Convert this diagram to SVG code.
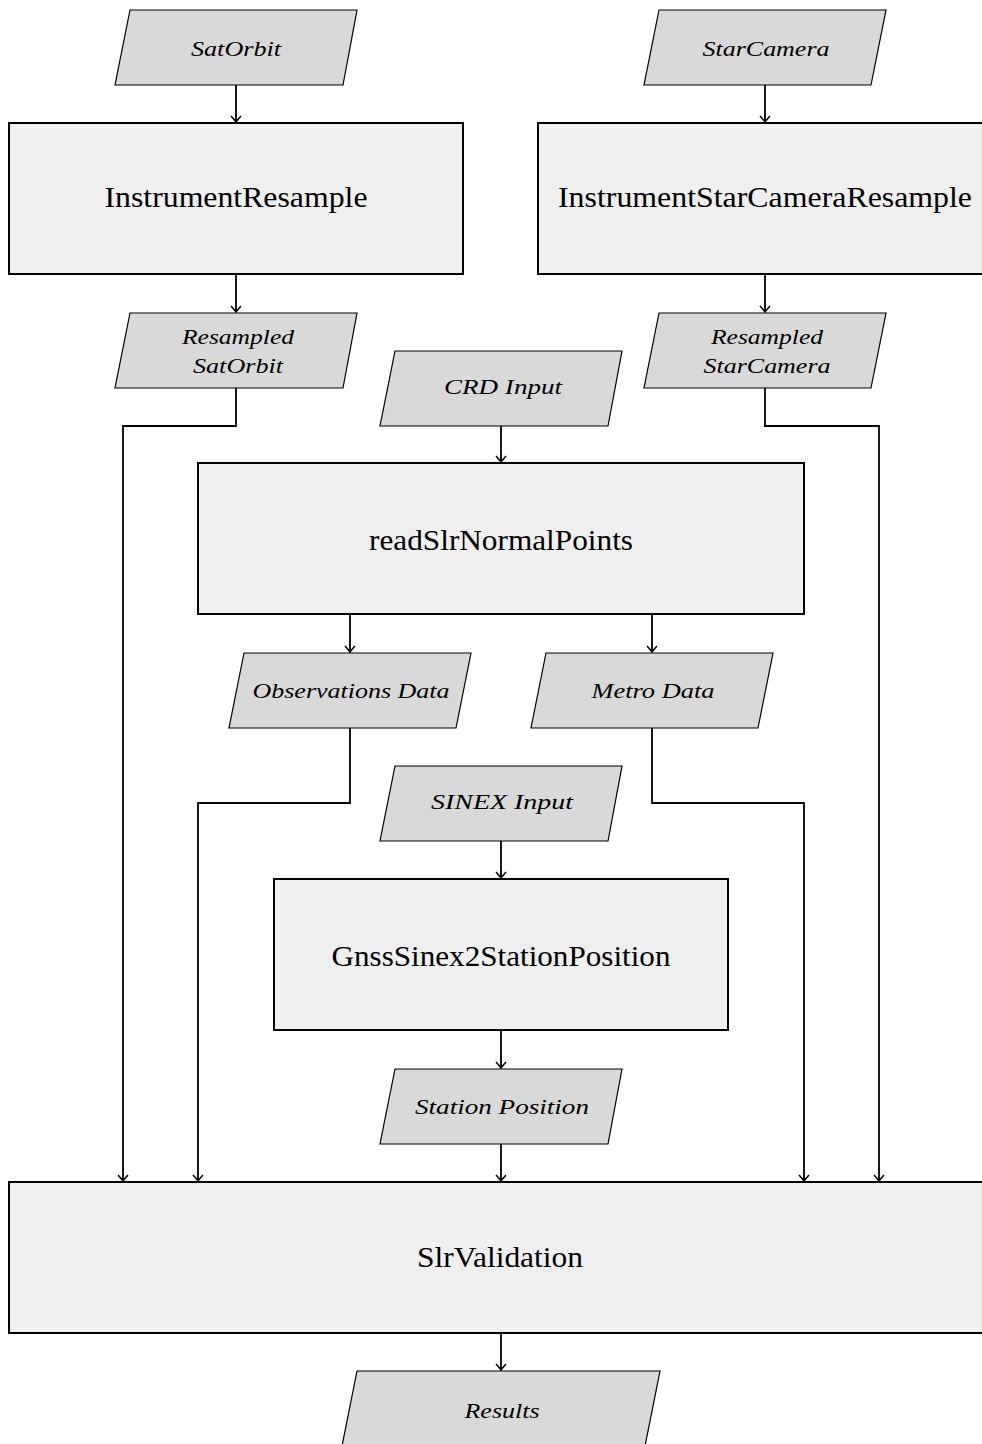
<svg xmlns="http://www.w3.org/2000/svg" width="982" height="1444" viewBox="0 0 982 1444">
<defs>
<style>
.box{fill:#efefef;stroke:#000;stroke-width:2}
.io{fill:#d9d9d9;stroke:#000;stroke-width:1.2}
.bt{font-family:"Liberation Serif","DejaVu Serif",serif;font-size:29px;text-anchor:middle;fill:#000}
.lt{font-family:"Liberation Serif","DejaVu Serif",serif;font-size:22px;font-style:italic;text-anchor:middle;fill:#000}
.c{fill:none;stroke:#000;stroke-width:1.8}
</style>
<marker id="ah" markerUnits="userSpaceOnUse" markerWidth="14" markerHeight="14" viewBox="-7 -7 14 14" refX="0" refY="0" orient="auto">
<path d="M -6 -5 Q -1.5 -1 0 0 Q -1.5 1 -6 5" fill="none" stroke="#000" stroke-width="1.5"/>
</marker>
</defs>
<rect width="982" height="1444" fill="#fff"/>
<g id="connectors">
<path class="c" d="M236 85 V122" marker-end="url(#ah)"/>
<path class="c" d="M765 85 V122" marker-end="url(#ah)"/>
<path class="c" d="M236 274 V312" marker-end="url(#ah)"/>
<path class="c" d="M765 274 V312" marker-end="url(#ah)"/>
<path class="c" d="M501 426 V462" marker-end="url(#ah)"/>
<path class="c" d="M350 614 V652" marker-end="url(#ah)"/>
<path class="c" d="M652 614 V652" marker-end="url(#ah)"/>
<path class="c" d="M501 841 V878" marker-end="url(#ah)"/>
<path class="c" d="M501 1030 V1068" marker-end="url(#ah)"/>
<path class="c" d="M236 388 V426 H123 V1181" marker-end="url(#ah)"/>
<path class="c" d="M765 388 V426 H879 V1181" marker-end="url(#ah)"/>
<path class="c" d="M350 728 V803 H198 V1181" marker-end="url(#ah)"/>
<path class="c" d="M652 728 V803 H804 V1181" marker-end="url(#ah)"/>
<path class="c" d="M501 1144 V1181" marker-end="url(#ah)"/>
<path class="c" d="M501 1333 V1370" marker-end="url(#ah)"/>
</g>
<g id="satorbit"><polygon class="io" points="130,10 357,10 343,85 115,85"/><text class="lt" x="236" y="56" textLength="90" lengthAdjust="spacingAndGlyphs">SatOrbit</text></g>
<g id="starcamera"><polygon class="io" points="659,10 886,10 871,85 644,85"/><text class="lt" x="766" y="56" textLength="127" lengthAdjust="spacingAndGlyphs">StarCamera</text></g>
<g id="instrumentresample"><rect class="box" x="9" y="123" width="454" height="151"/><text class="bt" x="236" y="207" textLength="263" lengthAdjust="spacingAndGlyphs">InstrumentResample</text></g>
<g id="instrumentstarcameraresample"><rect class="box" x="538" y="123" width="454" height="151"/><text class="bt" x="765" y="207" textLength="414" lengthAdjust="spacingAndGlyphs">InstrumentStarCameraResample</text></g>
<g id="resampledsatorbit"><polygon class="io" points="130,313 357,313 343,388 115,388"/><text class="lt" x="238" y="344" textLength="112" lengthAdjust="spacingAndGlyphs">Resampled</text><text class="lt" x="238" y="373" textLength="90" lengthAdjust="spacingAndGlyphs">SatOrbit</text></g>
<g id="resampledstarcamera"><polygon class="io" points="659,313 886,313 871,388 644,388"/><text class="lt" x="767" y="344" textLength="112" lengthAdjust="spacingAndGlyphs">Resampled</text><text class="lt" x="767" y="373" textLength="127" lengthAdjust="spacingAndGlyphs">StarCamera</text></g>
<g id="crdinput"><polygon class="io" points="395,351 622,351 608,426 380,426"/><text class="lt" x="503" y="394" textLength="118" lengthAdjust="spacingAndGlyphs">CRD Input</text></g>
<g id="readslrnormalpoints"><rect class="box" x="198" y="463" width="606" height="151"/><text class="bt" x="501" y="550" textLength="264" lengthAdjust="spacingAndGlyphs">readSlrNormalPoints</text></g>
<g id="observationsdata"><polygon class="io" points="244,653 471,653 456,728 229,728"/><text class="lt" x="351" y="698" textLength="197" lengthAdjust="spacingAndGlyphs">Observations Data</text></g>
<g id="metrodata"><polygon class="io" points="546,653 773,653 758,728 531,728"/><text class="lt" x="653" y="698" textLength="123" lengthAdjust="spacingAndGlyphs">Metro Data</text></g>
<g id="sinexinput"><polygon class="io" points="395,766 622,766 608,841 380,841"/><text class="lt" x="502" y="809" textLength="142" lengthAdjust="spacingAndGlyphs">SINEX Input</text></g>
<g id="gnsssinex2stationposition"><rect class="box" x="274" y="879" width="454" height="151"/><text class="bt" x="501" y="966" textLength="339" lengthAdjust="spacingAndGlyphs">GnssSinex2StationPosition</text></g>
<g id="stationposition"><polygon class="io" points="395,1069 622,1069 608,1144 380,1144"/><text class="lt" x="502" y="1114" textLength="174" lengthAdjust="spacingAndGlyphs">Station Position</text></g>
<g id="slrvalidation"><rect class="box" x="9" y="1182" width="984" height="151"/><text class="bt" x="500" y="1267" textLength="166" lengthAdjust="spacingAndGlyphs">SlrValidation</text></g>
<g id="results"><polygon class="io" points="357,1371 660,1371 645,1446 342,1446"/><text class="lt" x="502" y="1418" textLength="75" lengthAdjust="spacingAndGlyphs">Results</text></g>
</svg>
